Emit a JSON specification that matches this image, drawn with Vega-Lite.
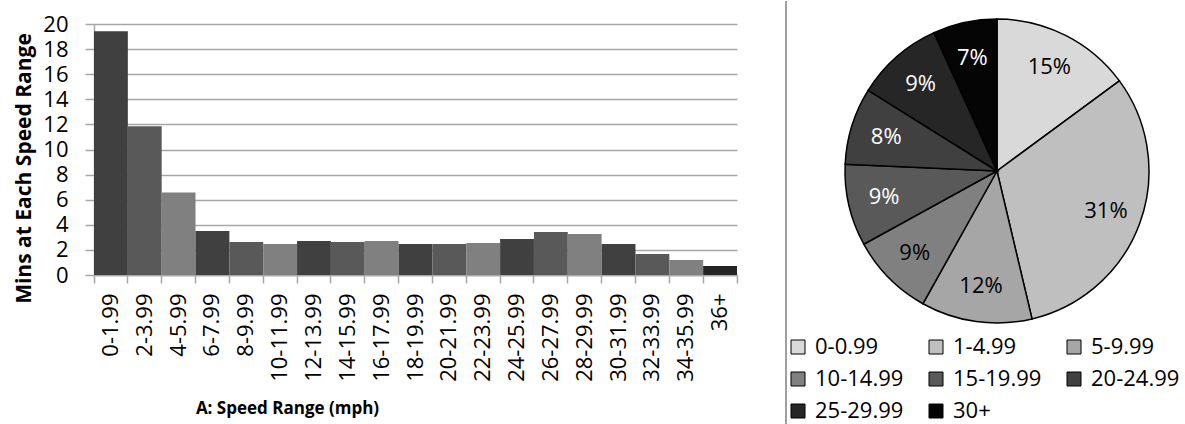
{
  "$schema": "https://vega.github.io/schema/vega-lite/v6.json",
  "padding": {"left": 13, "top": 0, "right": 0, "bottom": 0},
  "background": "white",
  "bounds": "flush",
  "spacing": 49,
  "datasets": {
    "bars": [
      {"range": "0-1.99", "mins": 19.42},
      {"range": "2-3.99", "mins": 11.86},
      {"range": "4-5.99", "mins": 6.58},
      {"range": "6-7.99", "mins": 3.5},
      {"range": "8-9.99", "mins": 2.62},
      {"range": "10-11.99", "mins": 2.47},
      {"range": "12-13.99", "mins": 2.7},
      {"range": "14-15.99", "mins": 2.62},
      {"range": "16-17.99", "mins": 2.7},
      {"range": "18-19.99", "mins": 2.47},
      {"range": "20-21.99", "mins": 2.47},
      {"range": "22-23.99", "mins": 2.55},
      {"range": "24-25.99", "mins": 2.86},
      {"range": "26-27.99", "mins": 3.42},
      {"range": "28-29.99", "mins": 3.26},
      {"range": "30-31.99", "mins": 2.47},
      {"range": "32-33.99", "mins": 1.67},
      {"range": "34-35.99", "mins": 1.19},
      {"range": "36+", "mins": 0.72}
    ],
    "pie": [
      {"range": "0-0.99", "share": 0.149, "i": 1},
      {"range": "1-4.99", "share": 0.314, "i": 2},
      {"range": "5-9.99", "share": 0.118, "i": 3},
      {"range": "10-14.99", "share": 0.089, "i": 4},
      {"range": "15-19.99", "share": 0.087, "i": 5},
      {"range": "20-24.99", "share": 0.082, "i": 6},
      {"range": "25-29.99", "share": 0.093, "i": 7},
      {"range": "30+", "share": 0.068, "i": 8}
    ],
    "divider": [{"pos": 0}]
  },
  "config": {
    "view": {"stroke": null},
    "font": "Open Sans",
    "axis": {"labelFont": "Open Sans", "titleFont": "Open Sans", "labelColor": "black", "titleColor": "black"}
  },
  "hconcat": [
    {
      "width": 643,
      "height": 251,
      "data": {"name": "bars"},
      "mark": {"type": "bar", "stroke": null},
      "encoding": {
        "x": {
          "field": "range",
          "type": "nominal",
          "sort": null,
          "scale": {"paddingInner": 0, "paddingOuter": 0},
          "axis": {
            "title": "A: Speed Range (mph)",
            "titleFontSize": 17,
            "titleFontWeight": "bold",
            "titleX": 193,
            "titleAlign": "center",
            "titlePadding": 19,
            "labelAngle": -90,
            "labelAlign": "right",
            "labelBaseline": "middle",
            "labelFontSize": 22,
            "labelPadding": 10,
            "bandPosition": 1,
            "tickExtra": true,
            "ticks": true,
            "tickSize": 8,
            "tickColor": "#a6a6a6",
            "tickWidth": 1.5,
            "domainColor": "#a6a6a6",
            "domainWidth": 1.5,
            "grid": false
          }
        },
        "y": {
          "field": "mins",
          "type": "quantitative",
          "scale": {"domain": [0, 20], "nice": false},
          "axis": {
            "title": "Mins at Each Speed Range",
            "titleFontSize": 21,
            "titleFontWeight": "bold",
            "titlePadding": 8,
            "titleY": 144,
            "titleAlign": "center",
            "values": [0, 2, 4, 6, 8, 10, 12, 14, 16, 18, 20],
            "labelFontSize": 22,
            "labelPadding": 17,
            "tickSize": 9,
            "tickColor": "#a6a6a6",
            "tickWidth": 1.5,
            "domainColor": "#a6a6a6",
            "domainWidth": 1.5,
            "grid": true,
            "gridColor": "#a6a6a6",
            "gridWidth": 1.5
          }
        },
        "color": {
          "field": "range",
          "type": "nominal",
          "legend": null,
          "scale": {
            "domain": ["0-1.99", "2-3.99", "4-5.99", "6-7.99", "8-9.99", "10-11.99", "12-13.99", "14-15.99", "16-17.99", "18-19.99", "20-21.99", "22-23.99", "24-25.99", "26-27.99", "28-29.99", "30-31.99", "32-33.99", "34-35.99", "36+"],
            "range": ["#404040", "#595959", "#808080", "#404040", "#595959", "#808080", "#404040", "#595959", "#808080", "#404040", "#595959", "#808080", "#404040", "#595959", "#808080", "#404040", "#595959", "#808080", "#242424"]
          }
        }
      }
    },
    {
      "width": 1,
      "height": 251,
      "data": {"name": "divider"},
      "mark": {"type": "rule", "color": "#7f7f7f", "strokeWidth": 1.5},
      "encoding": {
        "x": {"field": "pos", "type": "quantitative", "scale": {"domain": [0, 1]}, "axis": null},
        "y": {"datum": 1.092, "type": "quantitative", "scale": {"domain": [0, 1], "nice": false, "zero": false}, "axis": null},
        "y2": {"datum": -0.6}
      }
    },
    {
      "width": 322,
      "height": 294,
      "data": {"name": "pie"},
      "encoding": {
        "theta": {"field": "share", "type": "quantitative", "stack": true},
        "order": {"field": "i", "type": "quantitative"}
      },
      "layer": [
        {
          "mark": {"type": "arc", "radius": 152, "stroke": "black", "strokeWidth": 1.5},
          "encoding": {
            "color": {
              "field": "range",
              "type": "nominal",
              "scale": {
                "domain": ["0-0.99", "1-4.99", "5-9.99", "10-14.99", "15-19.99", "20-24.99", "25-29.99", "30+"],
                "range": ["#d9d9d9", "#bfbfbf", "#a6a6a6", "#808080", "#595959", "#404040", "#262626", "#050505"]
              },
              "legend": {
                "orient": "none",
                "legendX": -49,
                "legendY": 312,
                "direction": "horizontal",
                "columns": 3,
                "title": null,
                "symbolType": "square",
                "symbolSize": 196,
                "symbolStrokeColor": "black",
                "symbolStrokeWidth": 1,
                "symbolOpacity": 1,
                "labelFontSize": 22,
                "labelFont": "Open Sans",
                "labelColor": "black",
                "labelOffset": 6,
                "columnPadding": 21,
                "rowPadding": 10,
                "gridAlign": "all"
              }
            }
          }
        },
        {
          "mark": {"type": "text", "radius": 116, "fontSize": 22, "font": "Open Sans"},
          "encoding": {
            "text": {"field": "share", "type": "quantitative", "format": ".0%"},
            "color": {
              "field": "range",
              "type": "nominal",
              "legend": null,
              "scale": {
                "domain": ["0-0.99", "1-4.99", "5-9.99", "10-14.99", "15-19.99", "20-24.99", "25-29.99", "30+"],
                "range": ["black", "black", "black", "black", "white", "white", "white", "white"]
              }
            }
          }
        }
      ],
      "resolve": {"scale": {"color": "independent"}}
    }
  ]
}
